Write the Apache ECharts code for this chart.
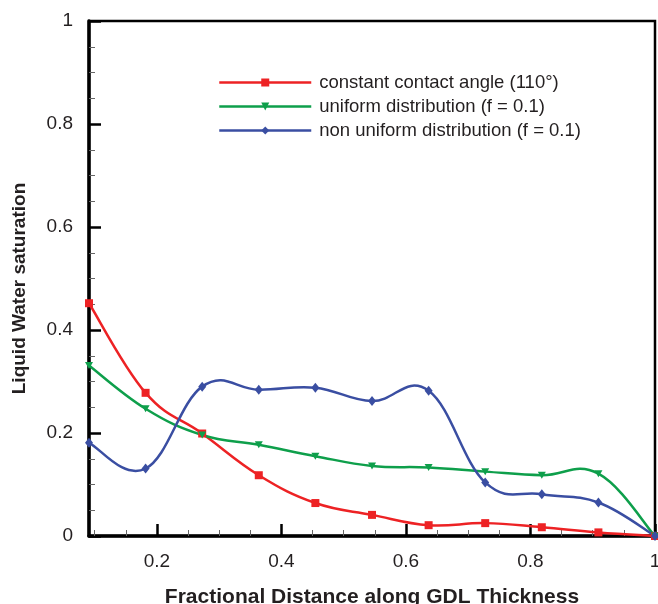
<!DOCTYPE html>
<html>
<head>
<meta charset="utf-8">
<title>Liquid water saturation</title>
<script src="https://cdn.jsdelivr.net/npm/echarts@6/dist/echarts.min.js"></script>
<style>
  html, body { margin: 0; padding: 0; background: #fff; }
  #main { width: 658px; height: 604px; }
</style>
</head>
<body>
<div id="main"></div>
<script>
// data
var xs = [0.0909, 0.1818, 0.2727, 0.3636, 0.4545, 0.5455, 0.6364, 0.7273, 0.8182, 0.9091, 1.0];
var constantAngle = [0.452, 0.278, 0.199, 0.118, 0.064, 0.041, 0.021, 0.025, 0.017, 0.007, 0];
var uniformDist = [0.331, 0.247, 0.196, 0.177, 0.155, 0.136, 0.133, 0.125, 0.118, 0.121, 0];
var nonUniformDist = [0.181, 0.131, 0.290, 0.284, 0.288, 0.262, 0.282, 0.104, 0.081, 0.065, 0];
var names = ['constant contact angle (110°)', 'uniform distribution (f = 0.1)', 'non uniform distribution (f = 0.1)'];
var colors = ['#ed2224', '#0e9f4b', '#3a4ea2'];
var xMajor = [0.2, 0.4, 0.6, 0.8, 1];
var xMinor = [0.1, 0.15, 0.25, 0.3, 0.35, 0.45, 0.5, 0.55, 0.65, 0.7, 0.75, 0.85, 0.9, 0.95];
var yMajor = [0, 0.2, 0.4, 0.6, 0.8, 1];
var yMinor = [0.05, 0.1, 0.15, 0.25, 0.3, 0.35, 0.45, 0.5, 0.55, 0.65, 0.7, 0.75, 0.85, 0.9, 0.95];

function pairs(ys) {
  return xs.map(function (x, i) { return [x, ys[i]]; });
}

var font = 'Liberation Sans, Arial, Helvetica, sans-serif';
var myChart = echarts.init(document.getElementById('main'));

// second axis on each side only carries the small ticks
function minorAxis(min, pos, vals) {
  return {
    type: 'value', min: min, max: 1, position: pos,
    axisLine: { show: false, onZero: false },
    axisTick: { show: true, inside: true, length: 6, customValues: vals, lineStyle: { color: '#666', width: 1 } },
    axisLabel: { show: false },
    splitLine: { show: false }
  };
}

// cardinal spline through the data, drawn once per series
var TENSION = 0.2;
function splineSeries(ys, color) {
  var data = pairs(ys);
  return {
    type: 'custom',
    data: data,
    silent: true,
    renderItem: function (params, api) {
      if (params.dataIndex !== 0) return;
      var p = data.map(function (d) { return api.coord(d); });
      var n = p.length;
      var d = 'M' + p[0][0] + ' ' + p[0][1];
      for (var i = 0; i < n - 1; i++) {
        var p0 = p[Math.max(i - 1, 0)], p1 = p[i], p2 = p[i + 1], p3 = p[Math.min(i + 2, n - 1)];
        var c1x = p1[0] + (p2[0] - p0[0]) * TENSION, c1y = p1[1] + (p2[1] - p0[1]) * TENSION;
        var c2x = p2[0] - (p3[0] - p1[0]) * TENSION, c2y = p2[1] - (p3[1] - p1[1]) * TENSION;
        d += ' C' + c1x + ' ' + c1y + ' ' + c2x + ' ' + c2y + ' ' + p2[0] + ' ' + p2[1];
      }
      return {
        type: 'path',
        shape: { pathData: d },
        style: { fill: null, stroke: color, lineWidth: 2.5 }
      };
    }
  };
}

function markerSeries(i, ys, symbol, size, rotate) {
  return {
    name: names[i], type: 'line',
    data: pairs(ys),
    symbol: symbol, symbolSize: size, symbolRotate: rotate || 0,
    itemStyle: { color: colors[i] },
    lineStyle: { color: colors[i], width: 2.5, opacity: 0 }
  };
}

var option = {
  animation: false,
  textStyle: { fontFamily: font },
  grid: {
    left: 89, right: 3, top: 21, bottom: 68,
    outerBoundsMode: 'none',
    containLabel: false,
    show: true, borderColor: '#000', borderWidth: 2.5
  },
  legend: {
    orient: 'vertical',
    left: 213, top: 68,
    itemWidth: 92, itemHeight: 10, itemGap: 5,
    textStyle: { fontSize: 18.5, color: '#231f20', fontFamily: font, padding: [0, 0, 0, 3] },
    data: names.map(function (nm, i) {
      return { name: nm, lineStyle: { color: colors[i], width: 2.5, opacity: 1 } };
    })
  },
  xAxis: [{
    type: 'value', min: xs[0], max: 1, position: 'bottom',
    name: 'Fractional Distance along GDL Thickness',
    nameLocation: 'middle', nameGap: 51,
    nameTextStyle: { fontSize: 21, fontWeight: 'bold', color: '#231f20', fontFamily: font },
    axisLine: { show: true, onZero: false, lineStyle: { color: '#000', width: 3.5 } },
    axisTick: { show: true, inside: true, length: 12, customValues: xMajor, lineStyle: { color: '#000', width: 2.5 } },
    axisLabel: { customValues: xMajor, fontSize: 19, color: '#231f20', margin: 16, fontFamily: font },
    splitLine: { show: false }
  }, minorAxis(xs[0], 'bottom', xMinor)],
  yAxis: [{
    type: 'value', min: 0, max: 1, position: 'left',
    name: 'Liquid Water saturation',
    nameLocation: 'middle', nameGap: 60,
    nameTextStyle: { fontSize: 19, fontWeight: 'bold', color: '#231f20', fontFamily: font, padding: [0, 20, 0, 0] },
    axisLine: { show: true, onZero: false, lineStyle: { color: '#000', width: 3.5 } },
    axisTick: { show: true, inside: true, length: 12, customValues: yMajor, lineStyle: { color: '#000', width: 2.5 } },
    axisLabel: { customValues: yMajor, fontSize: 19, color: '#231f20', margin: 16, fontFamily: font },
    splitLine: { show: false }
  }, minorAxis(0, 'left', yMinor)],
  series: [
    splineSeries(constantAngle, colors[0]),
    splineSeries(uniformDist, colors[1]),
    splineSeries(nonUniformDist, colors[2]),
    markerSeries(0, constantAngle, 'rect', 8),
    markerSeries(1, uniformDist, 'triangle', [8, 7], 180),
    markerSeries(2, nonUniformDist, 'diamond', [8, 10])
  ]
};

myChart.setOption(option);
</script>
</body>
</html>
